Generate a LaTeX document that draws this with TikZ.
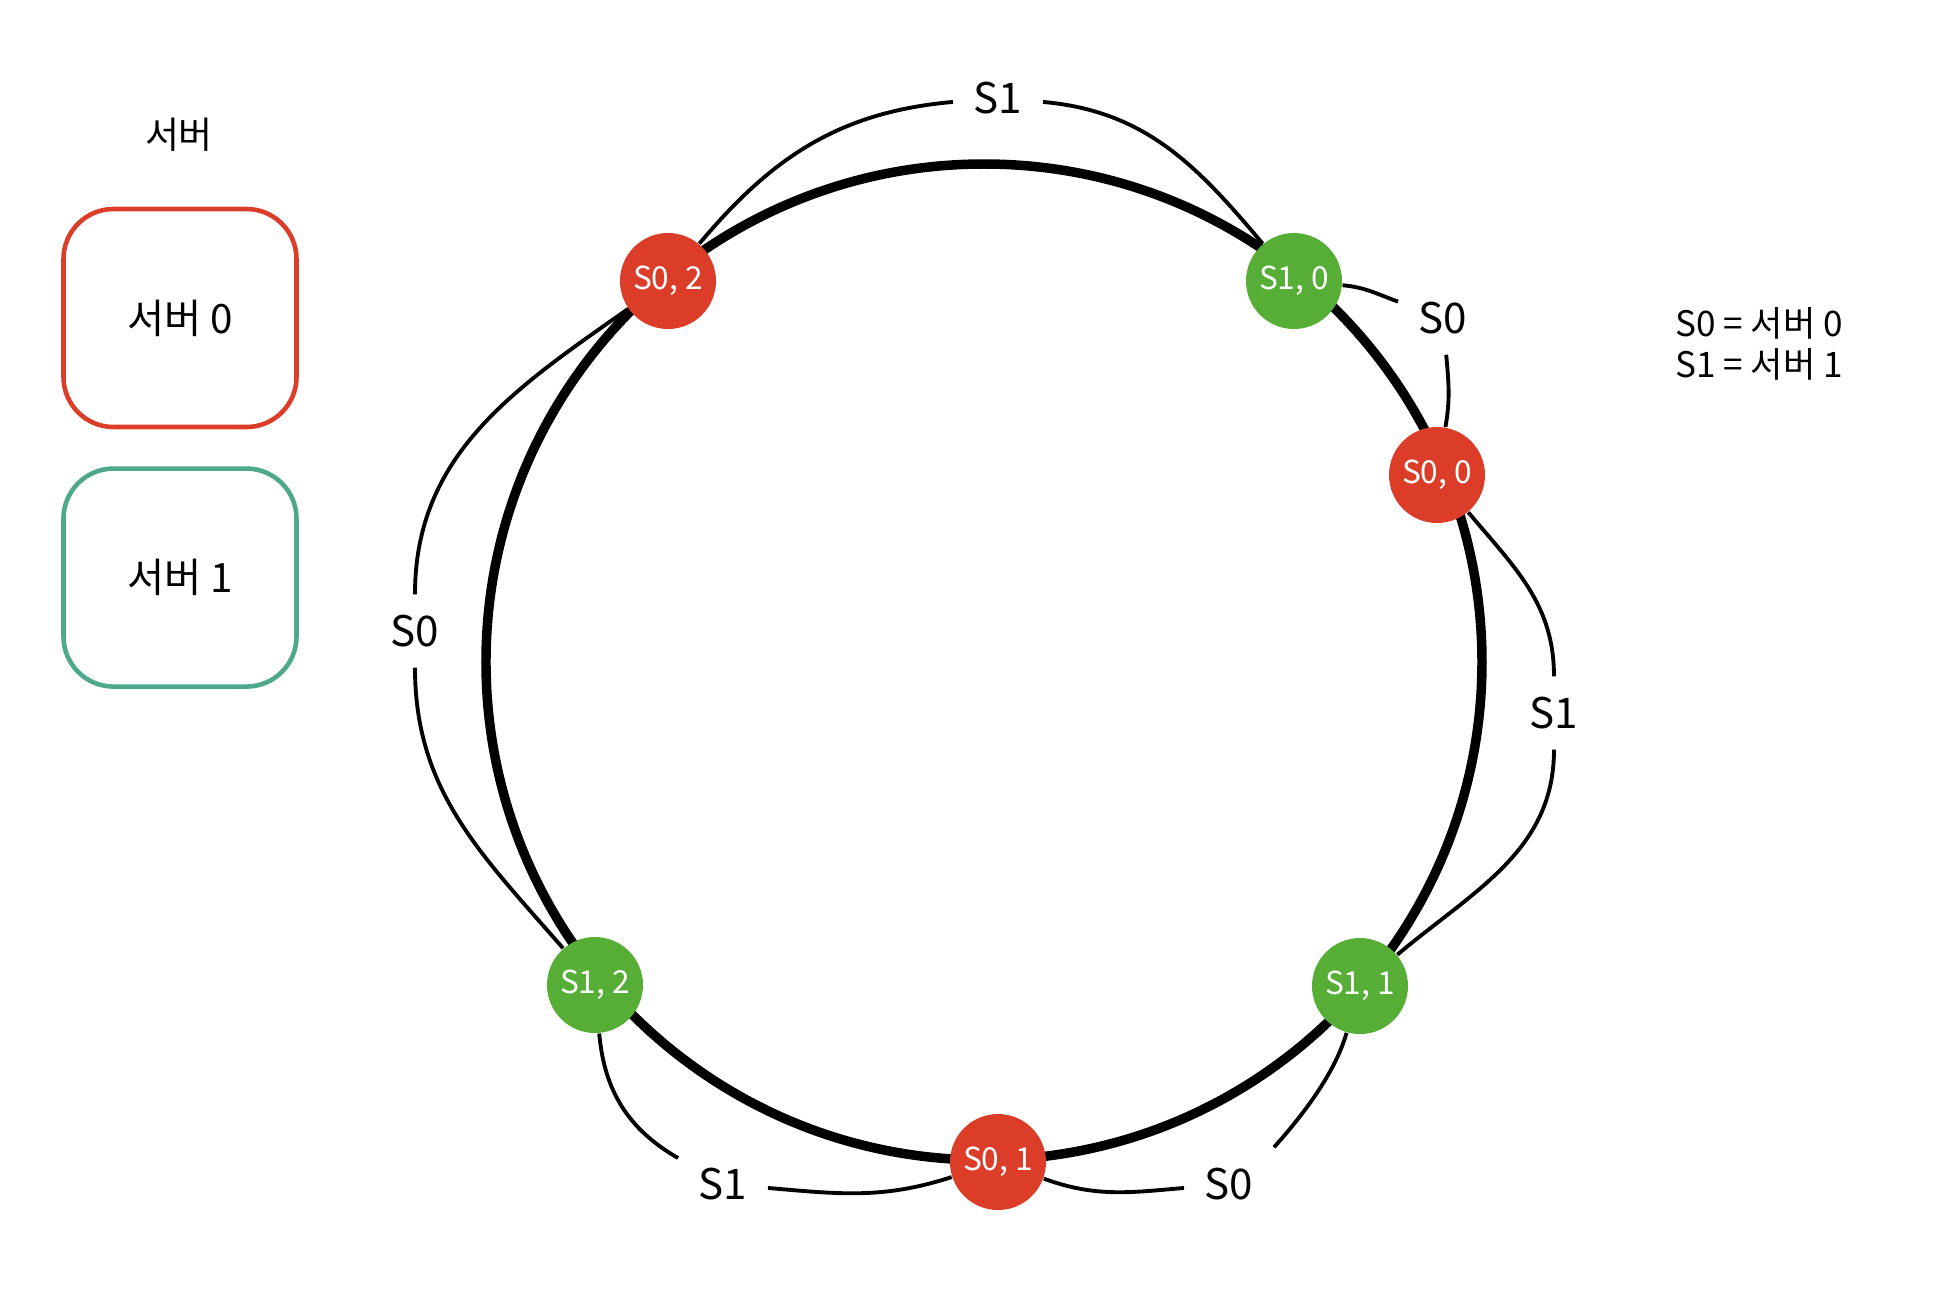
\documentclass[tikz,border=0pt]{standalone}
\usepackage{fontspec}
\setmainfont{Noto Sans CJK KR}
\usetikzlibrary{positioning}
\definecolor{srvred}{HTML}{DB3D28}
\definecolor{srvgreen}{HTML}{56AE36}
\definecolor{srvteal}{HTML}{4DA88C}

\begin{document}
\begin{tikzpicture}[
  vnode/.style={circle,minimum size=0.96cm,inner sep=0pt,text=white,font=\fontsize{9}{10}\selectfont},
  v0/.style={vnode,fill=srvred},
  v1/.style={vnode,fill=srvgreen},
  lbl/.style={inner sep=0.2cm,font=\fontsize{12}{14}\selectfont},
  link/.style={line width=1.1pt},
  srvbox/.style={rounded corners=0.5cm,line width=1.3pt,minimum width=2.33cm,minimum height=2.18cm,font=\fontsize{11.5}{13}\selectfont}]
\useasboundingbox (-9.84,-6.42) rectangle (9.50,6.62);
% ring
\draw[line width=2.7pt] (0,0) circle[radius=4.98cm];
% virtual nodes on the ring
\node[v0] (s02) at (-3.16,3.81) {S0, 2};
\node[v1] (s10) at (3.10,3.81) {S1, 0};
\node[v0] (s00) at (4.53,1.87) {S0, 0};
\node[v1] (s11) at (3.76,-3.24) {S1, 1};
\node[v0] (s01) at (0.14,-5.00) {S0, 1};
\node[v1] (s12) at (-3.89,-3.23) {S1, 2};
% owner labels
\node[lbl] (lt) at (0.14,5.64) {S1};
\node[lbl] (ltr) at (4.59,3.44) {S0};
\node[lbl] (lr) at (5.70,-0.51) {S1};
\node[lbl] (lbr) at (2.45,-5.22) {S0};
\node[lbl] (lbl) at (-2.61,-5.22) {S1};
\node[lbl] (ll) at (-5.69,0.31) {S0};
% links between neighbours
\draw[link] (s02) to[out=50,in=185] (lt);
\draw[link] (lt) to[out=-5,in=130] (s10);
\draw[link] (s10) to[out=-5,in=160] (ltr);
\draw[link] (ltr) to[out=-85,in=80] (s00);
\draw[link] (s00) to[out=-50,in=90] (lr);
\draw[link] (lr) to[out=-90,in=40] (s11);
\draw[link] (s11) to[out=-106,in=48,looseness=0.8] (lbr.north east);
\draw[link] (lbr) to[out=185,in=-20] (s01);
\draw[link] (s01) to[out=-162,in=-5] (lbl);
\draw[link] (lbl) to[out=150,in=-85] (s12);
\draw[link] (s12) to[out=131,in=-90] (ll);
\draw[link] (ll) to[out=90,in=-145] (s02);
% legend
\node[font=\fontsize{10.5}{12}\selectfont] (title) at (-8.05,5.27) {서버};
\node[srvbox,draw=srvred] (box0) at (-8.04,3.44) {서버 0};
\node[srvbox,draw=srvteal,below=0.37cm of box0] (box1) {서버 1};
\node[align=center,font=\fontsize{10}{11.7}\selectfont] (key) at (7.75,3.18) {S0 = 서버 0\\S1 = 서버 1};
\end{tikzpicture}
\end{document}
